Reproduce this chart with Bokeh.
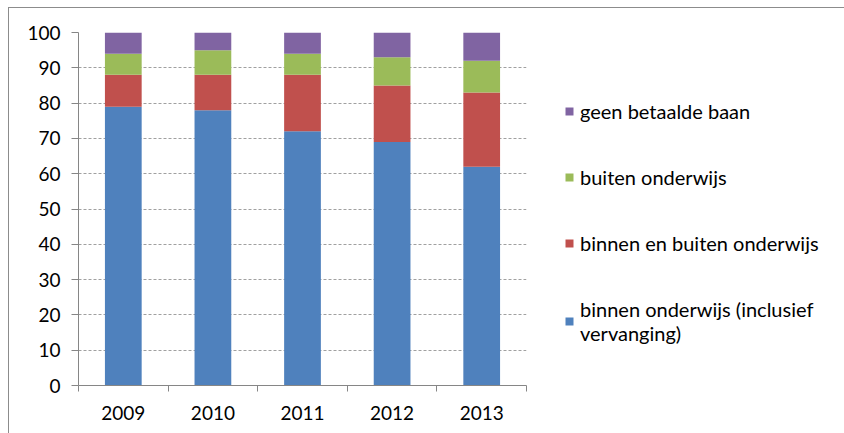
from bokeh.plotting import figure
from bokeh.models import ColumnDataSource, FixedTicker, Legend, LegendItem, Range1d
from bokeh.embed import file_html
from bokeh.resources import INLINE

# ---- data ----
years = ["2009", "2010", "2011", "2012", "2013"]
binnen_onderwijs = [79, 78, 72, 69, 62]
binnen_en_buiten = [9, 10, 16, 16, 21]
buiten_onderwijs = [6, 7, 6, 8, 9]
geen_betaalde_baan = [6, 5, 6, 7, 8]
series_labels = [
    "binnen onderwijs (inclusief\nvervanging)",
    "binnen en buiten onderwijs",
    "buiten onderwijs",
    "geen betaalde baan",
]
y_ticks = list(range(0, 101, 10))

colors = ["#4F81BD", "#C0504D", "#9BBB59", "#8064A2"]
FONT = "Lato"

xpos = [i + 0.5 for i in range(len(years))]
src = ColumnDataSource(dict(
    x=xpos,
    s0=binnen_onderwijs,
    s1=binnen_en_buiten,
    s2=buiten_onderwijs,
    s3=geen_betaalde_baan,
))

p = figure(
    frame_width=448, frame_height=353,
    x_range=Range1d(0, len(years)), y_range=Range1d(0, 100),
    output_backend="svg", toolbar_location=None,
    min_border_left=69, min_border_right=311,
    min_border_top=24, min_border_bottom=48,
)
p.styles = {"margin-left": "8px", "margin-top": "7px",
            "border-top": "1px solid #8c8c8c",
            "border-left": "1px solid #8c8c8c",
            "border-right": "1px solid #8c8c8c"}
p.outline_line_color = None

renderers = p.vbar_stack(["s0", "s1", "s2", "s3"], x="x", width=0.41,
                         color=colors, line_color=None, source=src)

# grid
p.xgrid.grid_line_color = None
p.ygrid.ticker = FixedTicker(ticks=y_ticks)
p.ygrid.grid_line_color = "#a0a0a0"
p.ygrid.grid_line_dash = "3 2"
p.ygrid.grid_line_width = 1

# y axis
ya = p.yaxis[0]
ya.ticker = FixedTicker(ticks=y_ticks)
ya.axis_line_color = "#868686"
ya.major_tick_line_color = "#868686"
ya.major_tick_out = 7
ya.major_tick_in = 0
ya.minor_tick_line_color = None
ya.major_label_text_font = FONT
ya.major_label_text_font_size = "19px"
ya.major_label_text_color = "#000000"
ya.major_label_standoff = 11

# x axis
xa = p.xaxis[0]
xa.ticker = FixedTicker(ticks=xpos, minor_ticks=list(range(len(years) + 1)))
xa.major_label_overrides = {x: y for x, y in zip(xpos, years)}
xa.axis_line_color = "#868686"
xa.major_tick_line_color = None
xa.major_tick_out = 0
xa.major_tick_in = 0
xa.minor_tick_line_color = "#868686"
xa.minor_tick_out = 6
xa.minor_tick_in = 0
xa.major_label_text_font = FONT
xa.major_label_text_font_size = "19px"
xa.major_label_text_color = "#000000"
xa.major_label_standoff = 14

# legend (top to bottom: reverse stack order)
items = [LegendItem(label=lab, renderers=[r])
         for lab, r in zip(series_labels[::-1], renderers[::-1])]
legend = Legend(
    items=items, location=(38, 40),
    glyph_width=10, glyph_height=10, label_standoff=6,
    label_text_font=FONT, label_text_font_size="20px",
    label_text_color="#000000", label_height=20,
    spacing=42, padding=0, margin=0,
    border_line_color=None, background_fill_alpha=0,
)
p.add_layout(legend, "right")

open("out.html", "w").write(file_html(p, INLINE))
